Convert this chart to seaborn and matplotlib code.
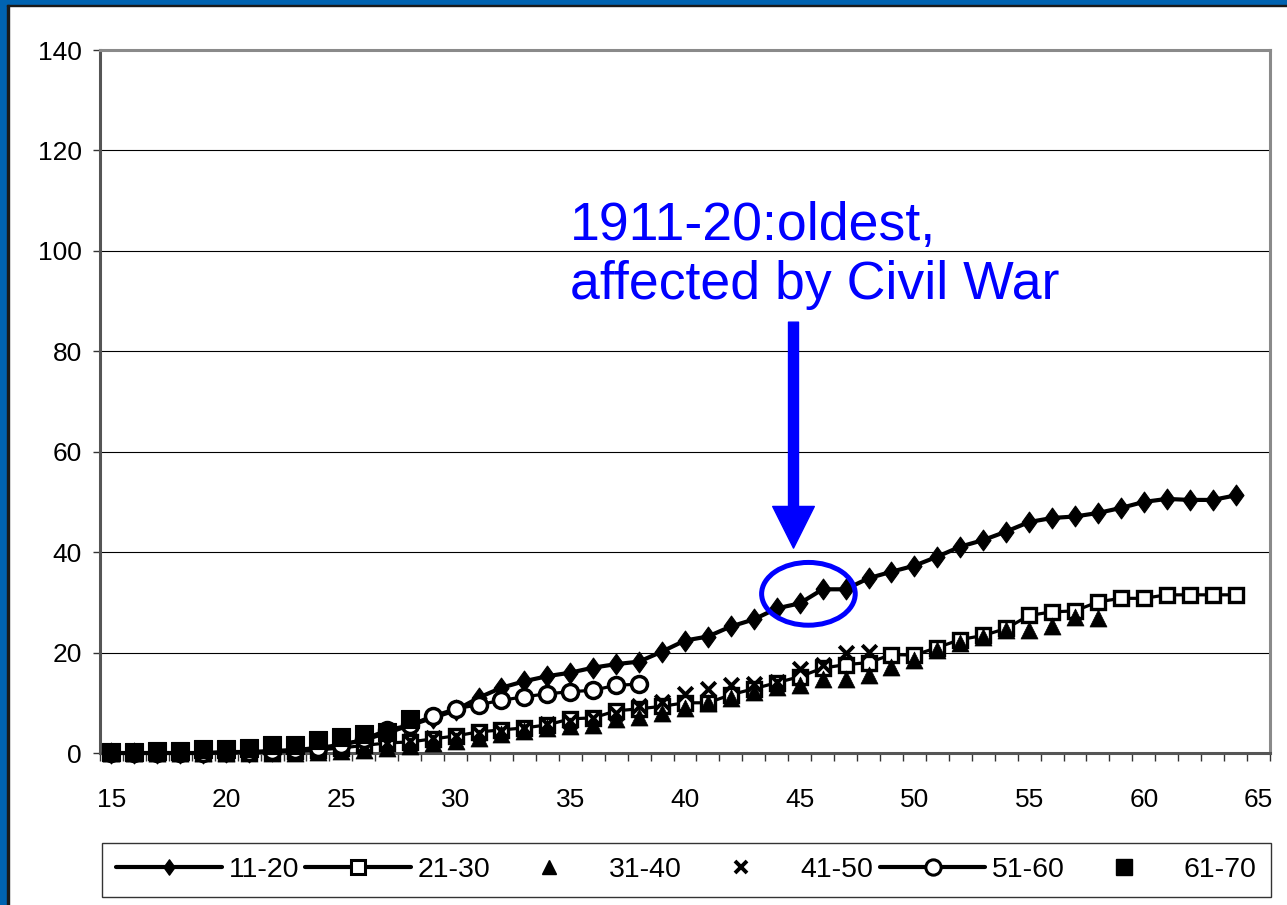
import numpy as np
import pandas as pd
import seaborn as sns
import matplotlib.pyplot as plt
from matplotlib.lines import Line2D
from matplotlib.patches import Ellipse, Rectangle

# age axis and cohort series
ages = list(range(15, 65))
labels = ['11-20', '21-30', '31-40', '41-50', '51-60', '61-70']

c11_20 = [0, 0, 0, 0, 0, 0.2, 0.2, 0.4, 0.6, 1.0,
          1.6, 2.6, 4.0, 5.5, 7.0, 8.5, 11.0, 13.0, 14.3, 15.3,
          16.0, 17.0, 17.7, 18.2, 20.2, 22.4, 23.2, 25.2, 26.6, 28.8,
          29.8, 32.6, 32.6, 34.8, 36.1, 37.3, 39.1, 41.1, 42.4, 44.1,
          46.0, 46.8, 47.1, 47.8, 48.8, 50.0, 50.6, 50.4, 50.4, 51.3]
c21_30 = [0, 0, 0, 0, 0, 0, 0.1, 0.2, 0.3, 0.6,
          1.0, 1.5, 2.0, 2.2, 2.8, 3.4, 4.2, 4.6, 5.0, 5.6,
          6.8, 7.0, 8.4, 8.8, 9.3, 10.0, 10.0, 11.6, 12.8, 14.0,
          15.2, 16.9, 17.6, 18.0, 19.6, 19.5, 21.0, 22.6, 23.4, 24.8,
          27.4, 28.1, 28.3, 30.1, 30.8, 30.8, 31.5, 31.5, 31.5, 31.5]
c31_40 = [0, 0, 0, 0, 0, 0, 0, 0, 0, 0.2,
          0.4, 0.6, 0.9, 1.4, 1.9, 2.4, 3.0, 3.8, 4.4, 5.0,
          5.4, 5.6, 6.8, 7.2, 8.0, 9.0, 10.0, 11.0, 12.2, 13.2,
          13.6, 14.8, 14.8, 15.6, 17.2, 18.6, 20.6, 22.0, 23.2, 24.4,
          24.4, 25.2, 27.0, 26.9]
c41_50 = [0, 0, 0, 0, 0, 0, 0, 0, 0.2, 0.5,
          0.9, 1.4, 1.9, 2.4, 2.9, 3.4, 3.9, 4.4, 5.0, 5.8,
          6.4, 7.0, 8.0, 9.4, 10.2, 11.8, 12.8, 13.6, 13.8, 14.2,
          16.8, 17.6, 20.0, 20.2]
c51_60 = [0, 0, 0, 0, 0, 0.1, 0.2, 0.3, 0.5, 0.9,
          1.6, 2.8, 4.6, 5.6, 7.4, 8.8, 9.6, 10.5, 11.2, 11.8,
          12.2, 12.5, 13.5, 13.7]
c61_70 = [0.2, 0.2, 0.3, 0.3, 0.8, 0.8, 1.0, 1.6, 1.6, 2.5,
          3.2, 3.8, 4.2, 6.8]

sns.set_style('white')
plt.rcParams['font.family'] = ['Liberation Sans', 'DejaVu Sans']
plt.rcParams['text.color'] = 'black'
plt.rcParams['xtick.labelcolor'] = 'black'
plt.rcParams['ytick.labelcolor'] = 'black'

fig = plt.figure(figsize=(12.87, 9.05), dpi=100)
ax = fig.add_axes([100 / 1287, 1 - 753 / 905, 1170 / 1287, 703 / 905])

diamond = [(-0.36, 0), (0, 0.5), (0.36, 0), (0, -0.5), (-0.36, 0)]

# series with lines
sns.lineplot(x=ages, y=c11_20, ax=ax, color='black', lw=3,
             marker=diamond, markersize=15, markerfacecolor='black',
             markeredgecolor='black', markeredgewidth=0.8,
             clip_on=False, zorder=3)
sns.lineplot(x=ages, y=c21_30, ax=ax, color='black', lw=2.3,
             marker='s', markersize=10.5, markerfacecolor='white',
             markeredgecolor='black', markeredgewidth=2.4,
             clip_on=False, zorder=4)
# marker-only series
sns.scatterplot(x=ages[:len(c31_40)], y=c31_40, ax=ax, marker='^', s=150,
                color='black', edgecolor='black', linewidth=0.5,
                clip_on=False, zorder=5)
sns.scatterplot(x=ages[:len(c41_50)], y=c41_50, ax=ax, marker='x', s=110,
                color='black', linewidth=2.8, clip_on=False, zorder=6)
sns.lineplot(x=ages[:len(c51_60)], y=c51_60, ax=ax, color='black', lw=2.3,
             marker='o', markersize=11.5, markerfacecolor='white',
             markeredgecolor='black', markeredgewidth=2.5,
             clip_on=False, zorder=7)
sns.scatterplot(x=ages[:len(c61_70)], y=c61_70, ax=ax, marker='s', s=165,
                color='black', edgecolor='black', linewidth=0.8,
                clip_on=False, zorder=8)

# axes styling
ax.set_xlim(14.5, 65.5)
ax.set_ylim(0, 140)
ax.set_xticks(range(15, 66, 5))
ax.set_xticks(np.arange(14.5, 65.6, 1), minor=True)
ax.set_yticks(range(0, 141, 20))
ax.tick_params(axis='x', which='major', length=0, pad=25, labelsize=19,
               labelcolor='black')
ax.tick_params(axis='x', which='minor', length=5.5, width=1, color='#333333',
               direction='out', bottom=True)
ax.tick_params(axis='y', which='major', length=5, width=1, color='#333333',
               direction='out', left=True, pad=8, labelsize=19,
               labelcolor='black')
ax.grid(axis='y', color='black', lw=0.8)
ax.set_axisbelow(True)
for side in ['left', 'bottom']:
    ax.spines[side].set_color('#555555')
    ax.spines[side].set_linewidth(2.2)
for side in ['top', 'right']:
    ax.spines[side].set_color('#8a8a8a')
    ax.spines[side].set_linewidth(2.2)
ax.set_xlabel('')
ax.set_ylabel('')

# annotation
ax.text(35.0, 102.2, '1911-20:oldest,', color='blue', fontsize=38.6,
        va='baseline', ha='left')
ax.text(35.0, 90.4, 'affected by Civil War', color='blue', fontsize=38.6,
        va='baseline', ha='left')
ax.annotate('', xy=(44.73, 40.8), xytext=(44.73, 85.8),
            arrowprops=dict(color='blue', width=7.2, headwidth=30,
                            headlength=30, shrink=0))
ax.add_patch(Ellipse((45.38, 31.7), width=4.08, height=12.5, fill=False,
                     edgecolor='blue', lw=3.6, zorder=9))

# legend
handles = [
    Line2D([], [], color='black', lw=3, marker=diamond, ms=11,
           mfc='black', mec='black'),
    Line2D([], [], color='black', lw=3, marker='s', ms=10,
           mfc='white', mec='black', mew=2.2),
    Line2D([], [], ls='none', marker='^', ms=10, color='black'),
    Line2D([], [], ls='none', marker='x', ms=8, mew=2.8, color='black'),
    Line2D([], [], color='black', lw=3, marker='o', ms=11,
           mfc='white', mec='black', mew=2.2),
    Line2D([], [], ls='none', marker='s', ms=11, color='black'),
]
leg = fig.legend(handles, labels, loc='lower left',
                 bbox_to_anchor=(102 / 1287, 8 / 905, 1169 / 1287, 54 / 905),
                 mode='expand', ncol=6, frameon=True, fancybox=False,
                 edgecolor='black', fontsize=20.5, handlelength=3.7,
                 handletextpad=0.25, borderaxespad=0, borderpad=0.5,
                 labelcolor='black')
leg.get_frame().set_linewidth(1)

# slide border
fig.add_artist(Rectangle((0, 0), 7 / 1287, 1, transform=fig.transFigure,
                         color='#0063B1', zorder=10))
fig.add_artist(Rectangle((0, 1 - 5 / 905), 1, 5 / 905,
                         transform=fig.transFigure, color='#0063B1', zorder=10))
fig.add_artist(Rectangle((7 / 1287, 0), 1.5 / 1287, 1 - 5 / 905,
                         transform=fig.transFigure, color='#1a1a1a', zorder=10))
fig.add_artist(Rectangle((7 / 1287, 1 - 6.5 / 905), 1, 1.5 / 905,
                         transform=fig.transFigure, color='#1a1a1a', zorder=10))

fig.savefig('out.png', dpi=100, facecolor='white')
